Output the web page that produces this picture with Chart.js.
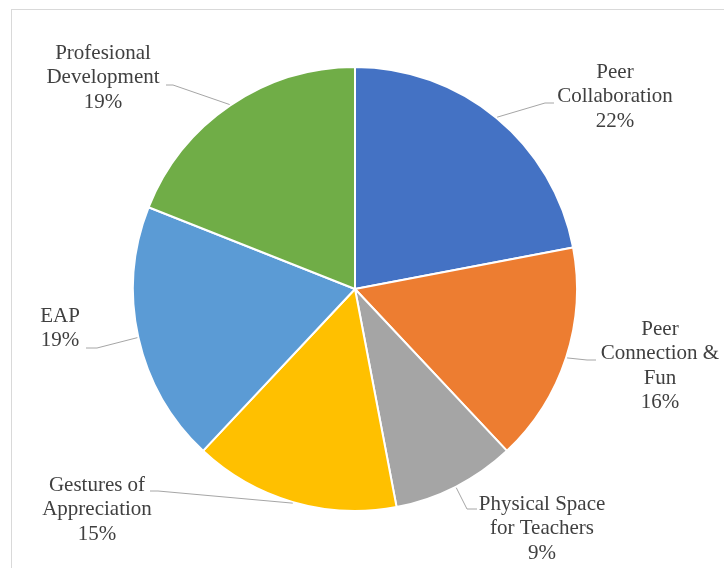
<!DOCTYPE html>
<html>
<head>
<meta charset="utf-8">
<script src="https://cdn.jsdelivr.net/npm/chart.js@4/dist/chart.umd.min.js"></script>
<style>
  html, body { margin: 0; padding: 0; background: #fff; }
  #wrap { position: relative; width: 724px; height: 568px; }
  .fontwarm { font-family: "Liberation Serif"; position: absolute; left: -999px; top: -999px; }
</style>
</head>
<body>
<div id="wrap"><canvas id="chart" width="724" height="568"></canvas></div>
<span class="fontwarm">Aa</span>
<script>
// Category names and their percentage shares (clockwise from 12 o'clock)
const categories = [
  'Peer Collaboration',
  'Peer Connection & Fun',
  'Physical Space for Teachers',
  'Gestures of Appreciation',
  'EAP',
  'Profesional Development'
];
const shares = [22, 16, 9, 15, 19, 19];

// How each category name is broken into lines on its label
const labelLines = [
  ['Peer', 'Collaboration'],
  ['Peer', 'Connection &', 'Fun'],
  ['Physical Space', 'for Teachers'],
  ['Gestures of', 'Appreciation'],
  ['EAP'],
  ['Profesional', 'Development']
];

const sliceColors = ['#4472C4', '#ED7D31', '#A5A5A5', '#FFC000', '#5B9BD5', '#70AD47'];

// Label placement: text centre x, first line y, leader elbow and end points
const labelLayout = [
  { x: 615, y: 72,  elbow: [545, 103], end: [554, 103] },
  { x: 660, y: 329, elbow: [587, 360], end: [596, 360] },
  { x: 542, y: 504, elbow: [467, 509], end: [477, 509] },
  { x: 97,  y: 485, elbow: [158, 491], end: [150, 491] },
  { x: 60,  y: 316, elbow: [97, 348],  end: [86, 348] },
  { x: 103, y: 53,  elbow: [173, 85],  end: [166, 85] }
];

const LINE_H = 24.6;
const FONT = '21px "Liberation Serif", "Times New Roman", "DejaVu Serif", serif';

// Light frame around the chart
const framePlugin = {
  id: 'frame',
  beforeDraw(chart) {
    const ctx = chart.ctx;
    ctx.save();
    ctx.fillStyle = '#ffffff';
    ctx.fillRect(0, 0, chart.width, chart.height);
    ctx.strokeStyle = '#d9d9d9';
    ctx.lineWidth = 1;
    ctx.strokeRect(11.5, 9.5, chart.width + 20, chart.height + 20);
    ctx.restore();
  }
};

// Outside labels with leader lines starting at each slice's mid-angle
const outsideLabels = {
  id: 'outsideLabels',
  afterDatasetsDraw(chart) {
    const ctx = chart.ctx;
    const arcs = chart.getDatasetMeta(0).data;
    ctx.save();
    arcs.forEach((arc, i) => {
      const lay = labelLayout[i];
      const mid = (arc.startAngle + arc.endAngle) / 2;
      const r = arc.outerRadius + 1;
      const sx = arc.x + Math.cos(mid) * r;
      const sy = arc.y + Math.sin(mid) * r;
      ctx.strokeStyle = '#a6a6a6';
      ctx.lineWidth = 1;
      ctx.beginPath();
      ctx.moveTo(sx, sy);
      ctx.lineTo(lay.elbow[0], lay.elbow[1]);
      ctx.lineTo(lay.end[0], lay.end[1]);
      ctx.stroke();

      const lines = labelLines[i].concat([shares[i] + '%']);
      ctx.fillStyle = '#404040';
      ctx.font = FONT;
      ctx.textAlign = 'center';
      ctx.textBaseline = 'middle';
      lines.forEach((t, k) => ctx.fillText(t, lay.x, lay.y + k * LINE_H));
    });
    ctx.restore();
  }
};

function build() {
  new Chart(document.getElementById('chart'), {
    type: 'pie',
    data: {
      labels: categories,
      datasets: [{
        data: shares,
        backgroundColor: sliceColors,
        borderColor: '#ffffff',
        borderWidth: 2
      }]
    },
    options: {
      responsive: false,
      animation: false,
      layout: { padding: { left: 132, right: 146, top: 66, bottom: 56 } },
      plugins: {
        legend: { display: false },
        tooltip: { enabled: false }
      }
    },
    plugins: [framePlugin, outsideLabels]
  });
}

document.fonts.load(FONT).then(build, build);
</script>
</body>
</html>
